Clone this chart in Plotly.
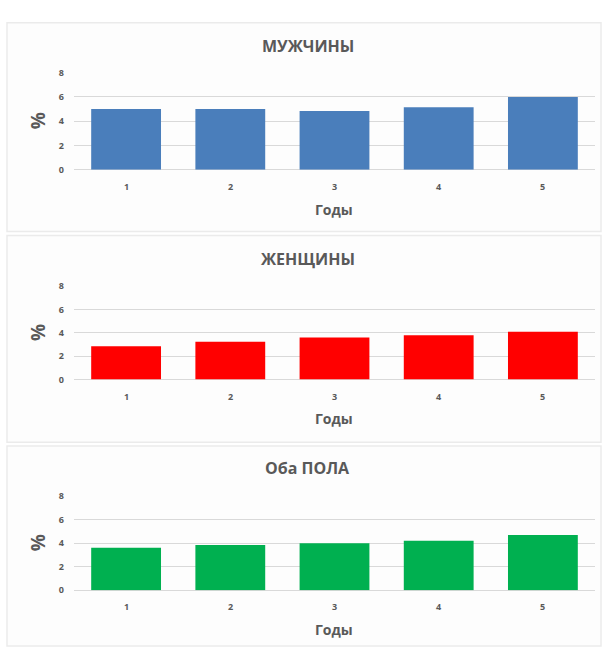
import plotly.graph_objects as go

W, H = 605, 655

years = ["1", "2", "3", "4", "5"]
men = [5.0, 5.0, 4.85, 5.15, 6.0]
women = [2.85, 3.25, 3.6, 3.8, 4.1]
both = [3.6, 3.85, 4.0, 4.2, 4.7]

titles = ["МУЖЧИНЫ", "ЖЕНЩИНЫ", "Оба ПОЛА"]
colors = ["#4a7ebb", "#ff0000", "#00b050"]
series = [men, women, both]
y_ticks = [0, 2, 4, 6, 8]

# pixel layout of each panel: (box top, box bottom, plot top, plot bottom, title y, x-label y, axis-title y)
panels = [
    (16, 229, 67, 166, 40, 183, 207),
    (233, 444, 285, 380, 257, 397, 420),
    (448, 652, 499, 595, 470, 612, 635),
]
plot_left, plot_right = 74, 595

def py(p):
    return 1 - p / H

def px(p):
    return p / W

fig = go.Figure()
shapes = []
annotations = []
text_col = "#595959"
font = "Open Sans, Arial, sans-serif"

for i, (vals, col, title, pan) in enumerate(zip(series, colors, titles, panels)):
    bt, bb, pt, pb, ty, xly, aty = pan
    xa = "x" if i == 0 else f"x{i+1}"
    ya = "y" if i == 0 else f"y{i+1}"
    fig.add_trace(go.Bar(x=years, y=vals, marker=dict(color=col, line=dict(width=0)),
                         width=0.67, xaxis=xa, yaxis=ya, showlegend=False))
    xkey = "xaxis" if i == 0 else f"xaxis{i+1}"
    ykey = "yaxis" if i == 0 else f"yaxis{i+1}"
    fig.layout[xkey] = dict(domain=[px(plot_left), px(plot_right)], anchor=ya, type="category",
                            range=[-0.5, 4.5], showgrid=False, zeroline=False, showline=False,
                            ticks="", showticklabels=False, fixedrange=True)
    fig.layout[ykey] = dict(domain=[py(pb), py(pt)], anchor=xa, range=[0, 8], tickvals=y_ticks,
                            showgrid=True, gridcolor="#d9d9d9", gridwidth=1, zeroline=True,
                            zerolinecolor="#d9d9d9", zerolinewidth=1, showline=False, ticks="",
                            ticklabelstandoff=9,
                            tickfont=dict(size=9, color=text_col, family=font, weight="bold"))
    # panel frame
    shapes.append(dict(type="rect", xref="paper", yref="paper", x0=px(7), x1=px(601),
                       y0=py(bb), y1=py(bt), line=dict(color="#ebebeb", width=1.5),
                       fillcolor="#fdfdfd", layer="below"))
    annotations.append(dict(text=title, xref="paper", yref="paper", x=px(308), y=py(ty),
                            showarrow=False, xanchor="center", yanchor="middle",
                            font=dict(size=16, color=text_col, family=font, weight="bold")))
    # category labels under the bars (category axis positions are indices)
    for k, lab in enumerate(years):
        annotations.append(dict(text=lab, xref=xa, yref="paper", x=k, y=py(xly),
                                showarrow=False, xanchor="center", yanchor="middle",
                                font=dict(size=9, color=text_col, family=font, weight="bold")))
    annotations.append(dict(text="Годы", xref="paper", yref="paper", x=px(334), y=py(aty),
                            showarrow=False, xanchor="center", yanchor="middle",
                            font=dict(size=14, color=text_col, family=font, weight="bold")))
    annotations.append(dict(text="%", xref="paper", yref="paper", x=px(38), y=py((pt + pb) / 2),
                            showarrow=False, xanchor="center", yanchor="middle", textangle=-90,
                            font=dict(size=19, color=text_col, family=font, weight="bold")))

fig.update_layout(width=W, height=H, margin=dict(l=0, r=0, t=0, b=0),
                  paper_bgcolor="white", plot_bgcolor="rgba(0,0,0,0)",
                  shapes=shapes, annotations=annotations, bargap=0.33)

fig.write_html("out.html")
